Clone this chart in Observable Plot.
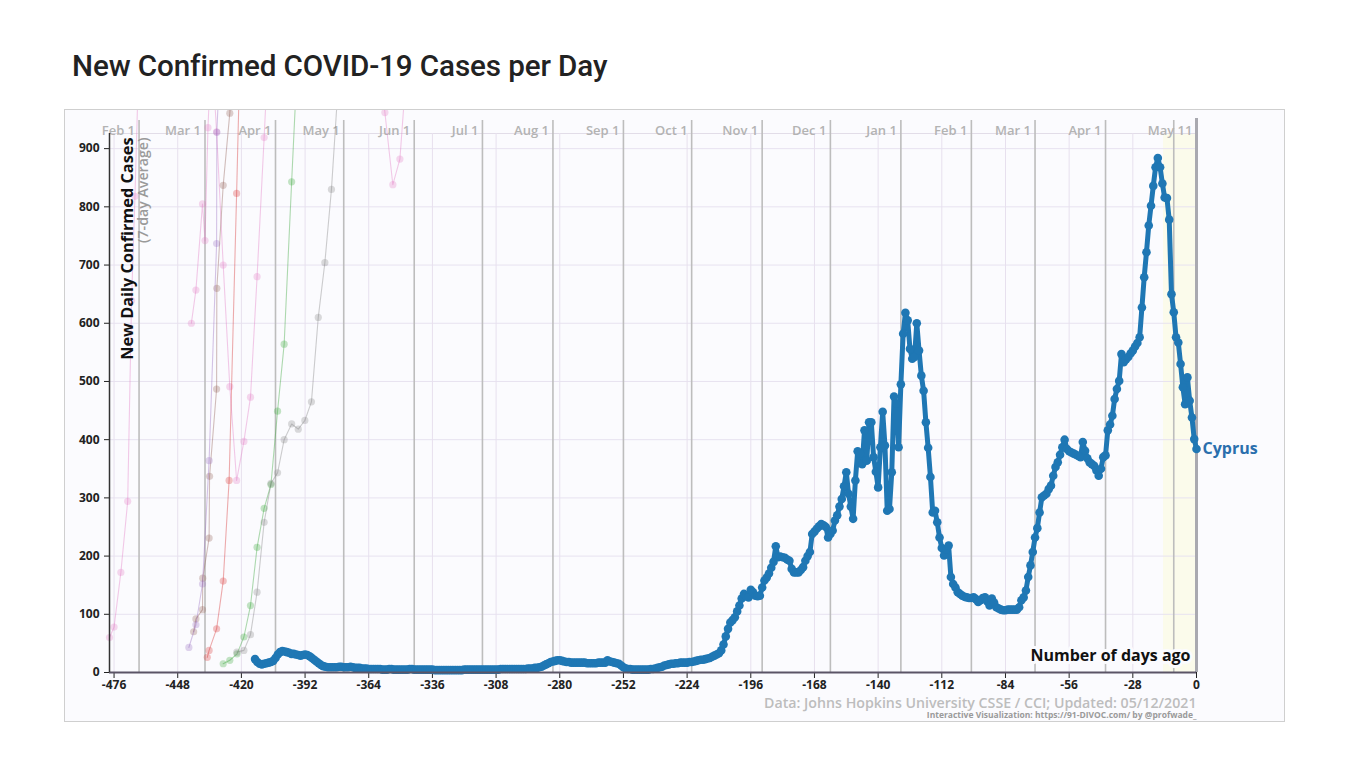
<!DOCTYPE html>
<html>
<head>
<meta charset="utf-8">
<script src="https://cdn.jsdelivr.net/npm/d3@7"></script>
<script src="https://cdn.jsdelivr.net/npm/@observablehq/plot@0.6"></script>
<style>
  html, body { margin: 0; padding: 0; background: #fff; }
  #title { position: absolute; left: 72px; top: 47px; font-family: Roboto, sans-serif; font-weight: 500; font-size: 29.6px; line-height: 38px; color: #222; letter-spacing: -0.1px; }
  #frame { position: absolute; left: 64px; top: 109px; width: 1219px; height: 611px; border: 1px solid #cfcfcf; background: #fbfbfe; overflow: hidden; }
  #frame svg { overflow: hidden; }
</style>
</head>
<body>
<div id="title">New Confirmed COVID-19 Cases per Day</div>
<div id="frame"></div>
<script>
// ---------- data ----------
const country = "Cyprus";
const cyprusFirstDay = -414;           // days ago of first value
const cyprusCases = [
  23,18,15,14,15,16,17,18,20,25,        // -414..-405
  31,35,37,36,35,34,32,32,31,30,        // -404..-395
  29,30,31,30,28,25,22,19,16,13,        // -394..-385
  11,10,9,9,9,9,9,10,10,9,              // -384..-375
  9,9,10,9,8,8,8,7,7,7,                 // -374..-365
  6,6,6,6,6,6,5,5,5,6,                  // -364..-355
  6,5,5,5,5,5,5,5,6,6,                  // -354..-345
  5,5,5,5,5,5,5,5,5,4,                  // -344..-335
  4,4,4,4,4,4,4,4,4,4,                  // -334..-325
  4,4,5,5,5,5,5,5,5,5,                  // -324..-315
  5,5,5,5,5,5,5,5,6,6,                  // -314..-305
  6,6,6,6,6,6,6,6,6,6,                  // -304..-295
  7,7,7,8,8,9,10,12,14,16,              // -294..-285
  18,19,20,21,21,20,19,18,18,17,        // -284..-275
  17,17,17,17,17,17,16,16,16,16,        // -274..-265
  16,17,17,17,17,21,19,18,17,16,        // -264..-255
  15,12,9,7,6,6,5,5,5,5,                // -254..-245
  5,5,5,5,6,6,7,8,9,10,                 // -244..-235
  12,13,14,15,15,16,16,17,17,17,        // -234..-225
  17,18,18,19,20,21,22,22,23,24,        // -224..-215
  25,27,29,31,33,38,48,62,75,86,        // -214..-205
  90,95,105,115,127,135,131,129,142,138,        // -204..-195
  132,131,132,146,158,163,170,180,190,217,      // -194..-185
  198,199,198,197,194,192,178,172,172,172,      // -184..-175
  176,181,192,200,207,238,242,247,251,255,      // -174..-165
  253,250,232,238,244,261,270,285,298,320,      // -164..-155
  344,307,285,264,330,380,376,358,416,364,      // -154..-145
  430,430,370,345,318,387,448,390,278,281,      // -144..-135
  344,474,462,387,495,582,618,605,556,539,      // -134..-125
  542,600,553,510,484,430,386,336,275,278,      // -124..-115
  258,232,214,201,212,218,164,152,146,138,      // -114..-105
  135,132,130,129,128,128,129,126,121,124,      // -104..-95
  128,129,122,115,127,120,112,110,108,107,      // -94..-85
  107,108,108,108,108,108,112,124,129,141,      // -84..-75
  164,184,207,232,248,275,301,304,307,315,      // -74..-65
  321,338,353,361,374,387,400,384,380,378,      // -64..-55
  376,374,372,370,396,381,368,361,358,355,      // -54..-45
  347,338,350,370,373,416,426,441,470,487,      // -44..-35
  501,547,533,538,542,548,553,560,566,576,      // -34..-25
  627,679,722,768,802,836,868,884,868,840,      // -24..-15
  816,815,778,650,619,576,567,530,490,461,      // -14..-5
  507,467,438,401,384                           // -4..0
];

// faint background trajectories (days ago, 7-day average)
const pinkADays = [-478, -476, -473, -470, -468.3, -466.8, -465.5];
const pinkAValues = [60, 78, 172, 294, 639, 818, 1000];
const pinkBDays = [-442, -440, -437.1, -436, -434.7, -434];
const pinkBValues = [600, 657, 805, 742, 936, 1000];
const pinkCDays = [-432, -430.9, -428, -425.1, -422.1, -418.9, -416, -413.1, -410, -409];
const pinkCValues = [1000, 929, 700, 491, 330, 397, 473, 680, 919, 1000];
const pinkDDays = [-358, -356.9, -353.4, -350.3, -348.1];
const pinkDValues = [1000, 962, 838, 882, 1000];
const brownDays = [-441, -440, -437.1, -437, -434.2, -434, -430.9, -430.8, -428, -425.1, -424.5];
const brownValues = [70, 92, 108, 162, 231, 337, 487, 660, 837, 961, 1000];
const purpleDays = [-443.1, -440, -437.1, -434.2, -430.9, -430.8, -430];
const purpleValues = [43, 82, 152, 364, 737, 928, 1000];
const redDays = [-435, -434.2, -430.9, -428, -425.4, -422.1, -421];
const redValues = [26, 38, 75, 157, 330, 823, 1000];
const greenDays = [-428, -425.1, -421.9, -418.9, -416, -413.1, -410, -407, -404.1, -401.2, -397.9, -396];
const greenValues = [15, 21, 32, 61, 115, 215, 282, 323, 449, 564, 843, 1000];
const grayDays = [-422, -418.9, -416, -413.1, -410, -407, -404.1, -401.2, -397.9, -395, -392.1, -389.2, -386.2, -383.3, -380.4, -377.6];
const grayValues = [35, 38, 65, 138, 258, 325, 343, 400, 427, 418, 433, 465, 610, 704, 830, 1000];

const monthLabels = ["Feb 1","Mar 1","Apr 1","May 1","Jun 1","Jul 1","Aug 1","Sep 1","Oct 1","Nov 1","Dec 1","Jan 1","Feb 1","Mar 1","Apr 1","", "May 11"];
const monthDays = [-465,-436,-405,-375,-344,-314,-283,-252,-222,-191,-161,-130,-99,-71,-40,-10,0];

const xTicks = [-476,-448,-420,-392,-364,-336,-308,-280,-252,-224,-196,-168,-140,-112,-84,-56,-28,0];
const yTicks = [0,100,200,300,400,500,600,700,800,900];
const xStart = -478;
const yTop = 926;
const recentStart = -14.5;

const yLabel = "New Daily Confirmed Cases";
const ySubLabel = "(7-day Average)";
const xLabel = "Number of days ago";
const caption1 = "Data: Johns Hopkins University CSSE / CCI; Updated: 05/12/2021";
const caption2 = "Interactive Visualization: https://91-DIVOC.com/ by @profwade_";

// ---------- tables ----------
const cyprus = cyprusCases.map((v, i) => ({day: cyprusFirstDay + i, cases: v}));
const faint = [
  {color: "#e377c2", days: pinkADays, values: pinkAValues},
  {color: "#e377c2", days: pinkBDays, values: pinkBValues},
  {color: "#e377c2", days: pinkCDays, values: pinkCValues},
  {color: "#e377c2", days: pinkDDays, values: pinkDValues},
  {color: "#8c564b", days: brownDays, values: brownValues},
  {color: "#9467bd", days: purpleDays, values: purpleValues},
  {color: "#d62728", days: redDays, values: redValues},
  {color: "#2ca02c", days: greenDays, values: greenValues},
  {color: "#7f7f7f", days: grayDays, values: grayValues}
].map(s => ({color: s.color, rows: s.days.map((d, i) => ({day: d, cases: s.values[i]}))}));

const months = monthDays.map((d, i) => ({day: d, label: monthLabels[i]}));
const font = "'Open Sans', sans-serif";

const faintMarks = faint.flatMap(s => [
  Plot.line(s.rows, {x: "day", y: "cases", stroke: s.color, strokeOpacity: 0.38, strokeWidth: 1.1}),
  Plot.dot(s.rows.filter(r => r.cases < 1000), {x: "day", y: "cases", r: 3.6, fill: s.color, fillOpacity: 0.28})
]);

const chart = Plot.plot({
  width: 1218,
  height: 610,
  marginLeft: 44,
  marginRight: 87,
  marginTop: 23,
  marginBottom: 48,
  style: {background: "transparent", fontFamily: font, fontSize: "12px", fontWeight: 700, color: "#222", overflow: "hidden"},
  x: {domain: [xStart, 0], ticks: xTicks, tickFormat: d => String(d), tickSize: 6, tickPadding: 2, label: null},
  y: {domain: [0, yTop], ticks: yTicks, tickFormat: d => String(d), tickSize: 5, tickPadding: 5, label: null},
  marks: [
    Plot.rect([recentStart], {x1: d => d, x2: 0, y1: 0, y2: yTop, fill: "#fbfbeb"}),
    Plot.ruleY(yTicks.filter(d => d > 0), {stroke: "#e7e2f0", strokeWidth: 1}),
    Plot.ruleY([yTop], {stroke: "#e2dde8", strokeWidth: 1}),
    Plot.ruleX(xTicks, {stroke: "#e7e0ee", strokeWidth: 1}),
    Plot.ruleX(months.filter(m => m.day < 0), {x: "day", stroke: "#bdbdbd", strokeWidth: 1.6, insetTop: -13}),
    Plot.ruleX([0], {stroke: "#a9a9b0", strokeWidth: 3, insetTop: -15}),
    Plot.text(months.filter(m => m.label), {x: "day", text: "label", frameAnchor: "top", dy: -8, dx: -4, textAnchor: "end", fill: "#b3b3b3", fontSize: 13, fontWeight: 600}),
    ...faintMarks,
    Plot.line(cyprus, {x: "day", y: "cases", stroke: "#1f77b4", strokeWidth: 5, strokeLinejoin: "round"}),
    Plot.dot(cyprus, {x: "day", y: "cases", r: 4.3, fill: "#1f77b4"}),
    Plot.text(cyprus.slice(-1), {x: "day", y: "cases", text: () => country, dx: 6, textAnchor: "start", fill: "#2a6fad", fontSize: 16, fontWeight: 700}),
    Plot.ruleY([0], {stroke: "#5b5466", strokeWidth: 2}),
    Plot.ruleX([xStart], {stroke: "#333", strokeWidth: 1.5}),
    Plot.text([xLabel], {frameAnchor: "bottom-right", dx: -6, dy: -12, textAnchor: "end", fill: "#111", fontSize: 16, fontWeight: 700, stroke: "#fbfbfe", strokeWidth: 6, paintOrder: "stroke"}),
    Plot.text([yLabel], {frameAnchor: "top-left", rotate: -90, textAnchor: "end", dx: 12, dy: 4, fill: "#111", fontSize: 16.3, fontWeight: 700}),
    Plot.text([ySubLabel], {frameAnchor: "top-left", rotate: -90, textAnchor: "end", dx: 28, dy: 4, fill: "#9a9a9a", fontSize: 14.2, fontWeight: 600}),
    Plot.text([caption1], {frameAnchor: "bottom-right", dy: 35, textAnchor: "end", fill: "#bdbdbd", fontSize: 14.2, fontWeight: 600}),
    Plot.text([caption2], {frameAnchor: "bottom-right", dy: 45.5, textAnchor: "end", fill: "#9a9a9a", fontSize: 8.5, fontWeight: 700})
  ]
});
document.getElementById("frame").appendChild(chart);
</script>
</body>
</html>
